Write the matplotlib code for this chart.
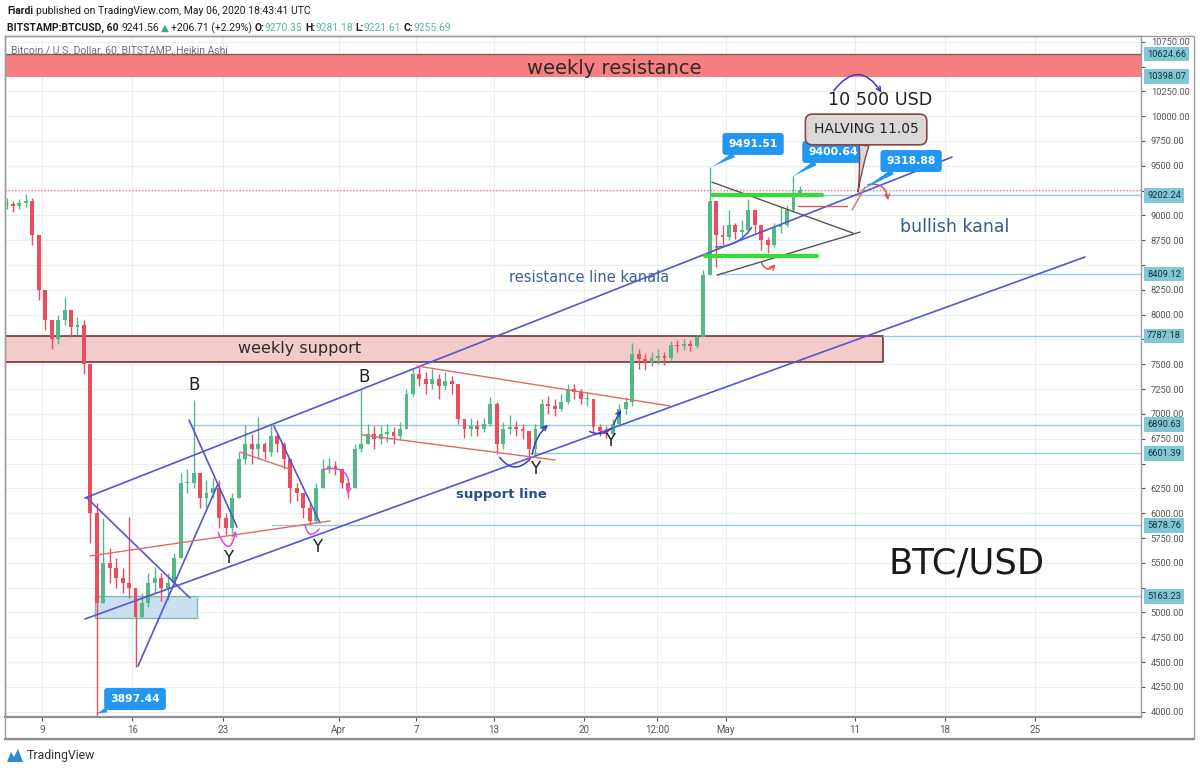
import logging
import numpy as np
import matplotlib
matplotlib.use('Agg')
import matplotlib.pyplot as plt
import matplotlib.transforms as mtransforms
from matplotlib.patches import Rectangle, FancyArrowPatch, Polygon

logging.getLogger('matplotlib.font_manager').setLevel(logging.ERROR)

# ---------------- data (12h Heikin-Ashi style candles) ----------------
candle_start_day = 5.0      # days since 2020-03-01 00:00
candle_len_day = 0.5
first_open = 9100
close = [9120, 9090, 9130, 9150, 8800, 8250, 7950, 7750, 7950, 8050,
         7880, 7900, 7500, 6000, 5100, 5500, 5450, 5350, 5300, 5250,
         4950, 5100, 5300, 5350, 5250, 5300, 5550, 6300, 6300, 6400,
         6150, 6200, 6250, 5950, 5850, 6150, 6550, 6700, 6650, 6700,
         6620, 6780, 6700, 6550, 6250, 6200, 6050, 5920, 6250, 6450,
         6480, 6450, 6300, 6250, 6650, 6700, 6800, 6750, 6800, 6820,
         6780, 6850, 7200, 7400, 7350, 7300, 7350, 7280, 7330, 7300,
         6950, 6850, 6880, 6850, 6900, 7100, 6700, 6850, 6870, 6850,
         6830, 6650, 6850, 7100, 7080, 7050, 7120, 7250, 7220, 7150,
         7150, 6870, 6830, 6800, 6900, 7050, 7120, 7600, 7550, 7520,
         7560, 7580, 7560, 7690, 7680, 7700, 7680, 7780, 8400, 9150,
         8800, 8780, 8900, 8830, 8850, 9050, 8900, 8750, 8700, 8880,
         8900, 9050, 9200, 9255.69]
high = [9180, 9150, 9170, 9215, 9180, 8800, 8250, 7950, 8000, 8180,
        8050, 7980, 7950, 7500, 6100, 5950, 5650, 5550, 5450, 5960,
        5250, 5200, 5400, 5460, 5400, 5400, 5600, 6400, 6450, 7140,
        6400, 6330, 6350, 6330, 6000, 6200, 6620, 6890, 6800, 6970,
        6720, 6890, 6800, 6720, 6550, 6300, 6200, 6100, 6300, 6550,
        6560, 6530, 6450, 6300, 6700, 7240, 6900, 6880, 6880, 6900,
        6870, 6920, 7250, 7450, 7480, 7420, 7450, 7400, 7420, 7380,
        7300, 6950, 6960, 6940, 6960, 7170, 7120, 6920, 6990, 6930,
        6900, 6830, 6900, 7150, 7180, 7150, 7200, 7300, 7300, 7250,
        7220, 7150, 6900, 6880, 6950, 7100, 7170, 7710, 7650, 7600,
        7620, 7650, 7620, 7730, 7740, 7750, 7740, 7800, 8450, 9491.51,
        9150, 8900, 9050, 8920, 8950, 9170, 9050, 8900, 8780, 8920,
        9085, 9100, 9400.64, 9300]
low = [9060, 9030, 9060, 9080, 8700, 8150, 7850, 7650, 7700, 7900,
       7780, 7800, 7400, 5700, 3897.44, 5100, 5300, 5250, 5200, 5150,
       4450, 4950, 5050, 5200, 5120, 5130, 5280, 5550, 6200, 6250,
       6050, 6060, 6150, 5850, 5780, 5800, 6150, 6500, 6500, 6550,
       6550, 6580, 6620, 6450, 6100, 6120, 5950, 5880, 5900, 6250,
       6400, 6380, 6250, 6150, 6250, 6620, 6700, 6650, 6700, 6720,
       6700, 6750, 6850, 7180, 7280, 7200, 7250, 7150, 7250, 7200,
       6900, 6760, 6780, 6780, 6820, 6880, 6600, 6650, 6800, 6780,
       6750, 6580, 6565, 6850, 7000, 6980, 7030, 7100, 7150, 7100,
       7080, 6820, 6780, 6760, 6780, 6880, 7000, 7080, 7450, 7440,
       7480, 7500, 7490, 7540, 7620, 7640, 7630, 7660, 7780, 8400,
       8480, 8700, 8750, 8760, 8780, 8820, 8820, 8650, 8620, 8680,
       8820, 8880, 9030, 9200]

tick_days = [8, 15, 22, 31, 37, 43, 50, 55.7, 61, 71, 78, 85]
tick_labels = ['9', '16', '23', 'Apr', '7', '13', '20', '12:00', 'May', '11', '18', '25']
price_ticks = list(range(4000, 10751, 250))

level_prices = [10624.66, 10398.07, 9202.24, 8409.12, 7787.18, 6890.63, 6601.39, 5878.76, 5163.23]
level_line_start = [None, None, 59.9, 60.33, 73.19, 19.7, 45.83, 25.83, 20.02]

resistance_band = (10398.07, 10624.66)
support_band = (7525, 7787.18, 73.19)          # low, high, right end day
blue_box = (12.11, 20.02, 4943, 5163.23)        # x0, x1, y0, y1

# drawn trend lines: (xs, ys, color, lw)
C_BLUE = '#5656cf'
C_RED = '#e06a6a'
drawn_lines = [
    ([11.33, 78.54], [6153, 9588], C_BLUE, 1.2),
    ([11.33, 88.85], [4934, 8581], C_BLUE, 1.2),
    ([11.49, 19.47], [6153, 5146], C_BLUE, 1.2),
    ([15.44, 21.64], [4460, 6294], C_BLUE, 1.2),
    ([19.40, 23.12], [6939, 5861], C_BLUE, 1.2),
    ([25.98, 29.55], [6879, 5902], C_BLUE, 1.2),
    ([23.35, 27.38], [6616, 6435], C_RED, 1.0),
    ([11.72, 30.33], [5569, 5922], C_RED, 1.0),
    ([37.07, 56.68], [7483, 7080], C_RED, 1.0),
    ([32.81, 47.77], [6788, 6536], C_RED, 1.0),
    ([59.94, 70.87], [9335, 8822], '#555555', 1.0),
    ([60.33, 71.41], [8399, 8832], '#555555', 1.0),
    ([59.94, 68.47], [9206, 9206], '#33dd33', 3.0),
    ([59.40, 68.08], [8591, 8591], '#33dd33', 3.0),
    ([66.60, 70.40], [9095, 9095], '#c46060', 1.0),
    ([70.79, 71.80], [9054, 9286], C_RED, 1.0),
]
# arcs: (A, B, rad, color, arrow)
C_MAG = '#d64fd0'
C_ARC = '#3b3bc0'
drawn_arcs = [
    ((69.24, 10233), (73.19, 10213), -0.75, C_ARC, True),
    ((21.57, 5831), (23.04, 5851), 1.8, C_MAG, True),
    ((28.39, 5911), (29.63, 5861), 1.2, C_MAG, False),
    ((29.55, 6435), (31.64, 6163), -0.8, C_MAG, True),
    ((43.35, 6586), (45.98, 6566), 0.65, C_ARC, False),
    ((45.98, 6566), (47.38, 6909), -0.2, C_ARC, True),
    ((50.25, 6838), (52.26, 6868), 0.4, C_ARC, False),
    ((52.26, 6868), (53.04, 7060), -0.1, C_ARC, True),
    ((63.66, 8551), (64.98, 8531), 0.9, '#e05555', True),
    ((71.80, 9306), (73.58, 9125), -0.6, '#e05555', True),
    ((60.02, 8682), (63.12, 8904), 0.3, C_BLUE, False),
]
# price callouts: (text, tip, box centre)
callouts = [
    ('9491.51', (59.94, 9488), (63.12, 9720)),
    ('9400.64', (66.14, 9387), (69.32, 9639)),
    ('9318.88', (71.26, 9236), (75.37, 9548)),
    ('3897.44', (12.19, 3977), (15.21, 4128)),
]
letters = [('B', 19.78, 7291), ('B', 32.96, 7372), ('Y', 22.42, 5549),
           ('Y', 29.32, 5660), ('Y', 46.22, 6446), ('Y', 52.03, 6728)]

# ---------------- figure ----------------
W, H = 1200, 771
fig = plt.figure(figsize=(W / 100, H / 100), dpi=100)
fig.patch.set_facecolor('white')
NARROW = ['Roboto', 'DejaVu Sans']
renderer = fig.canvas.get_renderer()


def fpos(x, y):
    return x / W, 1 - y / H


def runs(x, y, items, size):
    for txt, color, weight, gap in items:
        x += gap
        t = fig.text(*fpos(x, y), txt, color=color, fontweight=weight, fontsize=size,
                     family=NARROW, ha='left', va='center')
        x += t.get_window_extent(renderer).width


runs(7, 11, [('Fiardi', '#1e1e1e', 'bold', 0),
             ('published on TradingView.com, May 06, 2020 18:43:41 UTC', '#1e1e1e', 'normal', 2.5)], 7.5)
runs(7, 28, [('BITSTAMP:BTCUSD, 60', '#1e1e1e', 'bold', 0),
             ('9241.56', '#1e1e1e', 'normal', 2.5),
             ('\u25B2', '#3aa88e', 'normal', 2),
             ('+206.71 (+2.29%)', '#1e1e1e', 'normal', 2.5),
             ('O:', '#1e1e1e', 'bold', 2.5), ('9270.35', '#5bb5a6', 'normal', 0),
             ('H:', '#1e1e1e', 'bold', 2.5), ('9281.18', '#5bb5a6', 'normal', 0),
             ('L:', '#1e1e1e', 'bold', 2.5), ('9221.61', '#5bb5a6', 'normal', 0),
             ('C:', '#1e1e1e', 'bold', 2.5), ('9255.69', '#5bb5a6', 'normal', 0)], 7.5)

ax = fig.add_axes([5 / W, 1 - 716.7 / H, 1136 / W, 680.7 / H])
ax.set_xlim(5.132, 93.19)
ax.set_ylim(3949.6, 10807.7)
ax.yaxis.tick_right()
ax.set_yticks(price_ticks)
# tick labels hidden where a level label box sits on top of them
ax.set_yticklabels(['' if min(abs(p - q) for q in level_prices) < 105 else f'{p:.2f}'
                    for p in price_ticks])
ax.tick_params(axis='y', length=3, pad=4, labelsize=6.7, colors='#555555', width=0.8)
ax.set_xticks(tick_days)
ax.set_xticklabels(tick_labels)
ax.tick_params(axis='x', length=3, pad=3, labelsize=7, colors='#555555', width=0.8)
for lab in ax.get_xticklabels() + ax.get_yticklabels():
    lab.set_family(NARROW)
ax.grid(True, color='#e9eef3', lw=0.8, zorder=0)
ax.set_axisbelow(True)
for s in ax.spines.values():
    s.set_color('#9a9ea3')
    s.set_linewidth(1)
ax.spines['bottom'].set_linewidth(1.6)
ax.spines['bottom'].set_color('#8a8e93')

fig.add_artist(Rectangle(fpos(5, 739), (1194 - 5) / W, (739 - 36) / H, fill=False,
                         ec='#9a9ea3', lw=1, transform=fig.transFigure))
fig.add_artist(plt.Line2D([5 / W, 1194 / W], [1 - 739 / H] * 2, color='#8a8e93', lw=1.6,
                          transform=fig.transFigure))

# bands
ax.add_patch(Rectangle((5.132, resistance_band[0]), 93.19 - 5.132, resistance_band[1] - resistance_band[0],
                       fc='#f77f7f', ec='none', zorder=1))
ax.plot([5.132, 93.19], [resistance_band[1]] * 2, color='#7a6060', lw=1, zorder=5)
ax.text(5.6, 10660, 'Bitcoin / U.S. Dollar, 60, BITSTAMP, Heikin Ashi', fontsize=7.5,
        color='#707070', family=NARROW, va='center', ha='left', zorder=4)
ax.text(52.34, 10485, 'weekly resistance', fontsize=14, color='#2b2b2b', ha='center', va='center', zorder=4)

ax.add_patch(Rectangle((5.132, support_band[0]), support_band[2] - 5.132, support_band[1] - support_band[0],
                       fc='#f4cbcb', ec='#5a2a2a', lw=1.1, zorder=1))
ax.text(28.0, 7664, 'weekly support', fontsize=11.5, color='#2b2b2b', ha='center', va='center', zorder=4)

ax.add_patch(Rectangle((blue_box[0], blue_box[2]), blue_box[1] - blue_box[0], blue_box[3] - blue_box[2],
                       fc='#b9d6ea', ec='#5aa6a0', lw=1, alpha=0.75, zorder=1.2))

# level lines and price labels
blend = mtransforms.blended_transform_factory(ax.transAxes, ax.transData)
for p, start in zip(level_prices, level_line_start):
    if start is not None:
        ax.plot([start, 93.19], [p, p], color='#8fcfd9', lw=1, zorder=1.5)
    ax.text(1 + 6 / 1136, p, f'{p:.2f}', transform=blend, fontsize=6.7, family=NARROW,
            color='#15303d', ha='left', va='center', clip_on=False, zorder=6,
            bbox=dict(boxstyle='square,pad=0.3', fc='#82c8d4', ec='none'))

# candles
n = len(close)
days = [candle_start_day + (i + 0.5) * candle_len_day for i in range(n)]
opens = [first_open] + close[:-1]
up_c, dn_c = '#53b987', '#eb4d5c'
cols = [up_c if c >= o else dn_c for o, c in zip(opens, close)]
ax.vlines(days, low, high, colors=cols, lw=1.0, zorder=2)
bottoms = [min(o, c) for o, c in zip(opens, close)]
heights = [max(abs(c - o), 12) for o, c in zip(opens, close)]
ax.bar(days, heights, bottom=bottoms, width=0.3, color=cols, edgecolor='none', zorder=2.1)

ax.axhline(close[-1], color='#e57373', ls=(0, (1, 1.6)), lw=0.9, zorder=1.6)

# drawings
for xs, ys, c, lw in drawn_lines:
    ax.plot(xs, ys, color=c, lw=lw, zorder=3, solid_capstyle='round')
for A, B, rad, c, arrow in drawn_arcs:
    ax.add_patch(FancyArrowPatch(A, B, connectionstyle=f'arc3,rad={rad}',
                                 arrowstyle='->' if arrow else '-', mutation_scale=8,
                                 color=c, lw=1.1, zorder=3.2))

for txt, tip, ctr in callouts:
    ax.annotate(txt, xy=tip, xytext=ctr, ha='center', va='center', color='white',
                fontsize=7.8, fontweight='bold', zorder=7,
                bbox=dict(boxstyle='round,pad=0.55,rounding_size=0.3', fc='#2196f3', ec='none'),
                arrowprops=dict(arrowstyle='wedge,tail_width=0.5,shrink_factor=0.4',
                                fc='#2196f3', ec='none', shrinkA=0, shrinkB=0))
ax.annotate('HALVING 11.05', xy=(71.26, 9236), xytext=(71.88, 9866), ha='center', va='center',
            color='#222222', fontsize=10, zorder=7,
            bbox=dict(boxstyle='round,pad=0.6,rounding_size=0.5', fc='#d9d9d9', ec='#8b4545', lw=1.2),
            arrowprops=dict(arrowstyle='wedge,tail_width=0.7,shrink_factor=0.3',
                            fc='#d9d9d9', ec='#8b4545', lw=1, shrinkA=0, shrinkB=0))

ax.text(72.96, 10162, '10 500 USD', fontsize=12.6, color='#222222', ha='center', va='center', zorder=4)
ax.text(78.78, 8883, 'bullish kanal', fontsize=12.5, color='#2f5d8f', ha='center', va='center', zorder=4)
ax.text(50.4, 8370, 'resistance line kanala', fontsize=10.5, color='#3a6296', ha='center', va='center', zorder=4)
ax.text(43.58, 6193, 'support line', fontsize=9.5, fontweight='bold', color='#2a4d8f',
        ha='center', va='center', zorder=4)
ax.text(79.7, 5498, 'BTC/USD', fontsize=25.5, color='#1a1a1a', ha='center', va='center', zorder=4)
for s, x, y in letters:
    ax.text(x, y, s, fontsize=12, color='#222222', ha='center', va='center', zorder=4)

# TradingView footer
fig.add_artist(Polygon([fpos(7, 762), fpos(11, 752), fpos(14, 757), fpos(18, 749), fpos(23, 762)],
                       closed=True, fc='#2a8bd8', ec='none', transform=fig.transFigure))
fig.text(*fpos(27, 756), 'TradingView', fontsize=8.8, color='#333333', family=NARROW, va='center', ha='left')

fig.savefig('out.png', dpi=100, facecolor='white')
